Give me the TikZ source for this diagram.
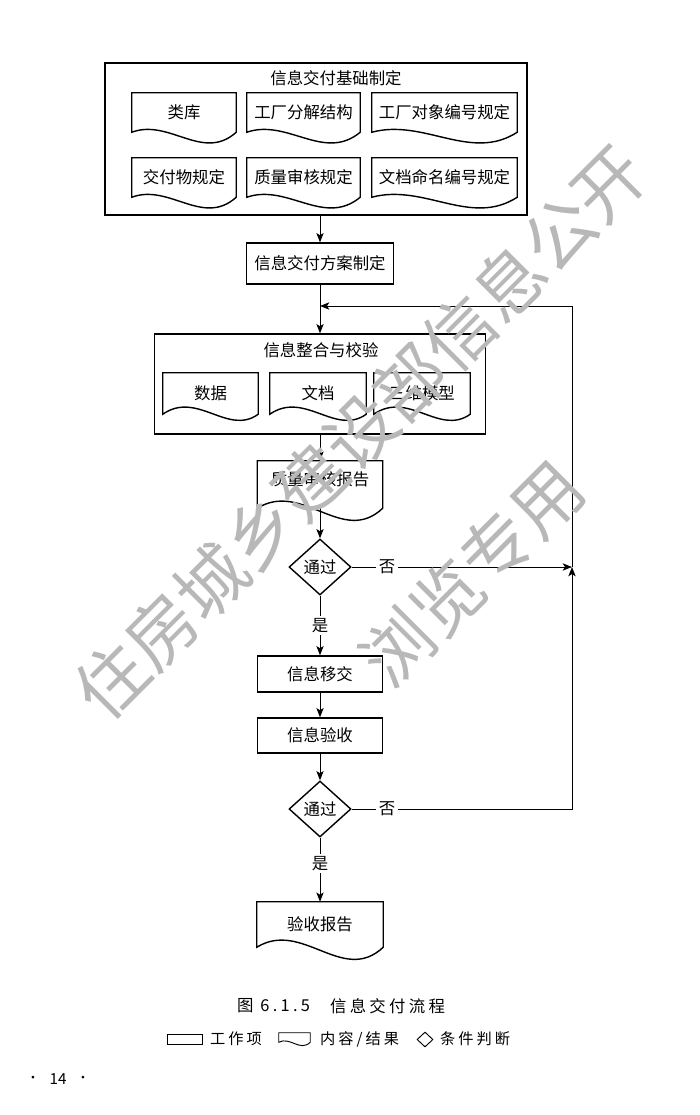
\documentclass[tikz,border=0pt]{standalone}
\usepackage{fontspec}
\setmainfont{Noto Sans CJK SC}
\newfontfamily\spacedfont[LetterSpace=20]{Noto Sans CJK SC}
\usetikzlibrary{shapes.geometric,arrows.meta,calc}

\newcommand{\wavebox}[4][boxline]{%
  \draw[#1] (#2.south west) -- (#2.north west) -- (#2.north east) -- (#2.south east)
    .. controls ($(#2.south west)!0.68!(#2.south east)+(0,#4)$) and ($(#2.south west)!0.36!(#2.south east)+(0,-#3)$) .. (#2.south west) -- cycle;}

\begin{document}
\begin{tikzpicture}[x=0.03cm,y=-0.03cm,
    font=\fontsize{14}{16}\selectfont,
    boxline/.style={line width=1.2pt},
    thinline/.style={line width=0.8pt},
    workbox/.style={draw,boxline,inner sep=0pt},
    docbox/.style={inner sep=0pt},
    judge/.style={draw,boxline,diamond,inner sep=0pt,minimum width=1.86cm,minimum height=1.68cm},
    link/.style={thinline,-{Stealth[length=2.8mm,width=2.2mm,inset=0.7mm]}},
    note/.style={fill=white,inner sep=2pt},
    keytext/.style={anchor=west,font=\spacedfont\fontsize{13}{15}\selectfont},
    stamp/.style={text=black!28,font=\fontsize{60}{60}\selectfont,rotate=45}]
      \useasboundingbox (0,0) rectangle (700,1115);

      \node[workbox,minimum width=12.66cm,minimum height=4.56cm] (base) at (316,139) {};
      \node (basetitle) at (336,78) {信息交付基础制定};
      \node[docbox,minimum width=3.12cm,minimum height=1.17cm] (lib) at (184,112.5) {类库};
      \node[docbox,minimum width=3.39cm,minimum height=1.17cm] (pbs) at (303.5,112.5) {工厂分解结构};
      \node[docbox,minimum width=4.35cm,minimum height=1.17cm] (objcode) at (444.5,112.5) {工厂对象编号规定};
      \node[docbox,minimum width=3.12cm,minimum height=1.17cm] (deliv) at (184,177.5) {交付物规定};
      \node[docbox,minimum width=3.39cm,minimum height=1.17cm] (qrule) at (303.5,177.5) {质量审核规定};
      \node[docbox,minimum width=4.35cm,minimum height=1.17cm] (docrule) at (444.5,177.5) {文档命名编号规定};
      \wavebox{lib}{14}{30}
      \wavebox{pbs}{14}{30}
      \wavebox{objcode}{14}{30}
      \wavebox{deliv}{14}{30}
      \wavebox{qrule}{14}{30}
      \wavebox{docrule}{14}{30}

      \node[workbox,minimum width=4.41cm,minimum height=1.23cm] (plan) at (320,263.5) {信息交付方案制定};

      \node[workbox,minimum width=9.93cm,minimum height=3cm] (integ) at (320,384) {};
      \node (integtitle) at (321,350) {信息整合与校验};
      \node[docbox,minimum width=2.85cm,minimum height=1.23cm] (data) at (210.5,393.5) {数据};
      \node[docbox,minimum width=2.88cm,minimum height=1.23cm] (file) at (318,393.5) {文档};
      \node[docbox,minimum width=2.88cm,minimum height=1.23cm] (model) at (422,393.5) {三维模型};
      \wavebox{data}{24}{22}
      \wavebox{file}{24}{22}
      \wavebox{model}{24}{22}

      \node[docbox,minimum width=3.75cm,minimum height=1.41cm] (check) at (320,484.5) {\raisebox{0.36cm}{质量审核报告}};
      \wavebox{check}{28}{38}

      \node[judge] (pass1) at (320,567) {通过};
      \node[workbox,minimum width=3.75cm,minimum height=1.08cm] (handover) at (320,674) {信息移交};
      \node[workbox,minimum width=3.75cm,minimum height=1.05cm] (accept) at (320,735.5) {信息验收};
      \node[judge] (pass2) at (320,809) {通过};
      \node[docbox,minimum width=3.78cm,minimum height=1.35cm] (final) at (320,924.5) {验收报告};
      \wavebox{final}{28}{38}

      \coordinate (turn) at (572,567);
      \coordinate (corner) at (572,809);
      \coordinate (top) at (572,306);
      \coordinate (merge) at (320,306);

      \draw[link] (base.south -| plan) -- (plan);
      \draw[link] (plan) -- (integ);
      \draw[link] (integ) -- (check);
      \draw[link] (check) -- (pass1);
      \draw[link] (pass1) -- node[note] (yes1) {是} (handover);
      \draw[link] (handover) -- (accept);
      \draw[link] (accept) -- (pass2);
      \draw[link] (pass2) -- node[note,pos=0.4] (yes2) {是} (final);
      \draw[link] (pass1) -- node[note,pos=0.16] (no1) {否} (turn);
      \draw[link] (pass2) -- node[note,pos=0.16] (no2) {否} (corner) -- (turn);
      \draw[link] (turn) -- (top) -- (merge);

      \node[anchor=west,font=\spacedfont\fontsize{14}{16}\selectfont] (figno) at (233,1006) {图 6.1.5};
      \node[anchor=west,font=\spacedfont\fontsize{14}{16}\selectfont] (figtitle) at (326,1006) {信息交付流程};

      \node[workbox,thinline,minimum width=1.05cm,minimum height=0.3cm] (keywork) at (184.5,1039) {};
      \node[keytext] (keyworktext) at (206,1039) {工作项};
      \node[docbox,minimum width=0.93cm,minimum height=0.27cm] (keydoc) at (294.5,1037.5) {};
      \wavebox[thinline]{keydoc}{6}{10}
      \node[keytext] (keydoctext) at (316,1039) {内容/结果};
      \node[draw,thinline,diamond,inner sep=0pt,minimum width=0.48cm,minimum height=0.45cm] (keyjudge) at (425,1039.5) {};
      \node[keytext] (keyjudgetext) at (436,1039) {条件判断};

      \node[font=\fontsize{11}{12}\selectfont] (dotl) at (33,1079) {•};
      \node[font=\fontsize{13}{15}\selectfont] (page) at (58,1079) {14};
      \node[font=\fontsize{11}{12}\selectfont] (dotr) at (83,1079) {•};

      \node[stamp] (stamp1) at (360,432) {住房城乡建设部信息公开};
      \node[stamp] (stamp2) at (472,573) {浏览专用};
    \end{tikzpicture}
\end{document}
